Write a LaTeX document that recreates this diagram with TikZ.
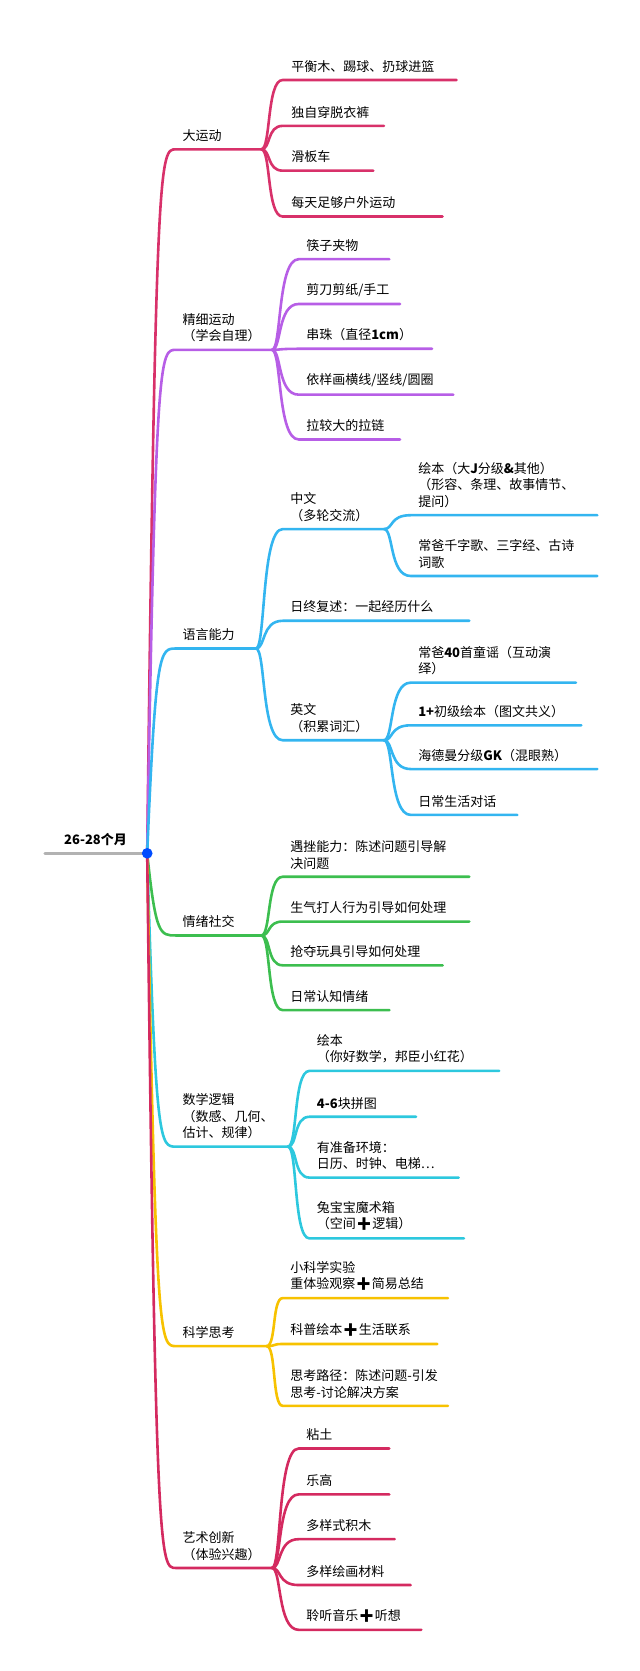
\documentclass[tikz,border=0pt]{standalone}
\usepackage{fontspec}
\setmainfont{Noto Sans CJK SC}
\newfontfamily\emofont{Noto Emoji}
\newcommand\plusmark{{\emofont ➕}}
\usetikzlibrary{calc}
\definecolor{cMove}{HTML}{D8316A}
\definecolor{cFine}{HTML}{B75EE6}
\definecolor{cLang}{HTML}{33B5F0}
\definecolor{cEmo}{HTML}{3CBE4F}
\definecolor{cMath}{HTML}{2DC8DE}
\definecolor{cSci}{HTML}{F7C200}
\definecolor{cArt}{HTML}{D42A60}
\tikzset{
  lnk/.style={line width=2.6pt,line cap=round},
  txt/.style={anchor=south west,inner sep=0pt,align=left,font=\fontsize{13}{16.5}\selectfont},
  curl/.style={to path={.. controls ($(\tikztostart)+(9,0)$) and ($(\tikztostart|-\tikztotarget)+(5,0)$) .. (\tikztotarget)}},
  rootcurl/.style={to path={.. controls ($(\tikztostart|-\tikztotarget)+(8,0)$) and ($(\tikztostart|-\tikztotarget)+(12,0)$) .. (\tikztotarget)}}
}
\begin{document}
\begin{tikzpicture}[x=1.0667pt,y=-1.0667pt]
\useasboundingbox (0,0) rectangle (600,1566.6);
% root
\coordinate (r0) at (42,800);
\coordinate (root) at (138,800);
\draw[lnk,gray!60] (r0) -- (root);
\node[txt,font=\fontsize{13}{16.5}\selectfont\bfseries] (rootlbl) at (60,793) {26-28个月};

% main branches
\foreach \n/\y/\e/\c/\t in {
  m1/140/245/cMove/{大运动},
  m2/328/255/cFine/{精细运动\\（学会自理）},
  m3/608/240/cLang/{语言能力},
  m4/877/245/cEmo/{情绪社交},
  m5/1075/270/cMath/{数学逻辑\\（数感、几何、\\估计、规律）},
  m6/1262/250/cSci/{科学思考},
  m7/1470/255/cArt/{艺术创新\\（体验兴趣）}}{
  \coordinate (\n) at (165,\y);
  \coordinate (\n e) at (\e,\y);
  \draw[lnk,\c] (root) to[rootcurl] (\n) -- (\n e);
  \node[txt] (\n t) at (171,\y-7) {\t};
}
\fill[blue!70!cyan] (root) circle (5);

% children of 大运动
\foreach \n/\y/\e/\t in {
  a1/75/428/{平衡木、踢球、扔球进篮},
  a2/118/360/{独自穿脱衣裤},
  a3/160/350/{滑板车},
  a4/203/415/{每天足够户外运动}}{
  \coordinate (\n) at (265,\y);
  \draw[lnk,cMove] (m1e) to[curl] (\n) -- (\e,\y);
  \node[txt] (\n t) at (273,\y-7) {\t};
}
% children of 精细运动
\foreach \n/\y/\e/\t in {
  b1/243/365/{筷子夹物},
  b2/285/375/{剪刀剪纸/手工},
  b3/327/405/{串珠（直径\textbf{1cm}）},
  b4/370/425/{依样画横线/竖线/圆圈},
  b5/412/375/{拉较大的拉链}}{
  \coordinate (\n) at (280,\y);
  \draw[lnk,cFine] (m2e) to[curl] (\n) -- (\e,\y);
  \node[txt] (\n t) at (287,\y-7) {\t};
}
% children of 语言能力
\foreach \n/\y/\e/\t in {
  c1/496/360/{中文\\（多轮交流）},
  c2/582/440/{日终复述：一起经历什么},
  c3/694/360/{英文\\（积累词汇）}}{
  \coordinate (\n) at (265,\y);
  \draw[lnk,cLang] (m3e) to[curl] (\n) -- (\e,\y);
  \node[txt] (\n t) at (272,\y-7) {\t};
}
\coordinate (c1e) at (360,496);
\coordinate (c3e) at (360,694);
\foreach \n/\y/\e/\t in {
  d1/483/560/{绘本（大\textbf{J}分级\textbf{\&}其他）\\（形容、条理、故事情节、\\提问）},
  d2/540/560/{常爸千字歌、三字经、古诗\\词歌}}{
  \coordinate (\n) at (385,\y);
  \draw[lnk,cLang] (c1e) to[curl] (\n) -- (\e,\y);
  \node[txt] (\n t) at (392,\y-7) {\t};
}
\foreach \n/\y/\e/\t in {
  e1/640/540/{常爸\textbf{40}首童谣（互动演\\绎）},
  e2/680/545/{\textbf{1+}初级绘本（图文共义）},
  e3/721/560/{海德曼分级\textbf{GK}（混眼熟）},
  e4/764/485/{日常生活对话}}{
  \coordinate (\n) at (385,\y);
  \draw[lnk,cLang] (c3e) to[curl] (\n) -- (\e,\y);
  \node[txt] (\n t) at (392,\y-7) {\t};
}
% children of 情绪社交
\foreach \n/\y/\e/\t in {
  f1/822/440/{遇挫能力：陈述问题引导解\\决问题},
  f2/864/440/{生气打人行为引导如何处理},
  f3/905/415/{抢夺玩具引导如何处理},
  f4/947/365/{日常认知情绪}}{
  \coordinate (\n) at (265,\y);
  \draw[lnk,cEmo] (m4e) to[curl] (\n) -- (\e,\y);
  \node[txt] (\n t) at (272,\y-7) {\t};
}
% children of 数学逻辑
\foreach \n/\y/\e/\t in {
  g1/1004/468/{绘本\\（你好数学，邦臣小红花）},
  g2/1047/390/{\textbf{4-6}块拼图},
  g3/1104/430/{有准备环境：\\日历、时钟、电梯…},
  g4/1161/435/{兔宝宝魔术箱\\（空间\plusmark 逻辑）}}{
  \coordinate (\n) at (290,\y);
  \draw[lnk,cMath] (m5e) to[curl] (\n) -- (\e,\y);
  \node[txt] (\n t) at (297,\y-7) {\t};
}
% children of 科学思考
\foreach \n/\y/\e/\t in {
  h1/1217/420/{小科学实验\\重体验观察\plusmark 简易总结},
  h2/1260/410/{科普绘本\plusmark 生活联系},
  h3/1318/420/{思考路径：陈述问题-引发\\思考-讨论解决方案}}{
  \coordinate (\n) at (265,\y);
  \draw[lnk,cSci] (m6e) to[curl] (\n) -- (\e,\y);
  \node[txt] (\n t) at (272,\y-7) {\t};
}
% children of 艺术创新
\foreach \n/\y/\e/\t in {
  k1/1358/365/{粘土},
  k2/1401/365/{乐高},
  k3/1443/370/{多样式积木},
  k4/1486/385/{多样绘画材料},
  k5/1528/395/{聆听音乐\plusmark 听想}}{
  \coordinate (\n) at (280,\y);
  \draw[lnk,cArt] (m7e) to[curl] (\n) -- (\e,\y);
  \node[txt] (\n t) at (287,\y-7) {\t};
}
\end{tikzpicture}
\end{document}
